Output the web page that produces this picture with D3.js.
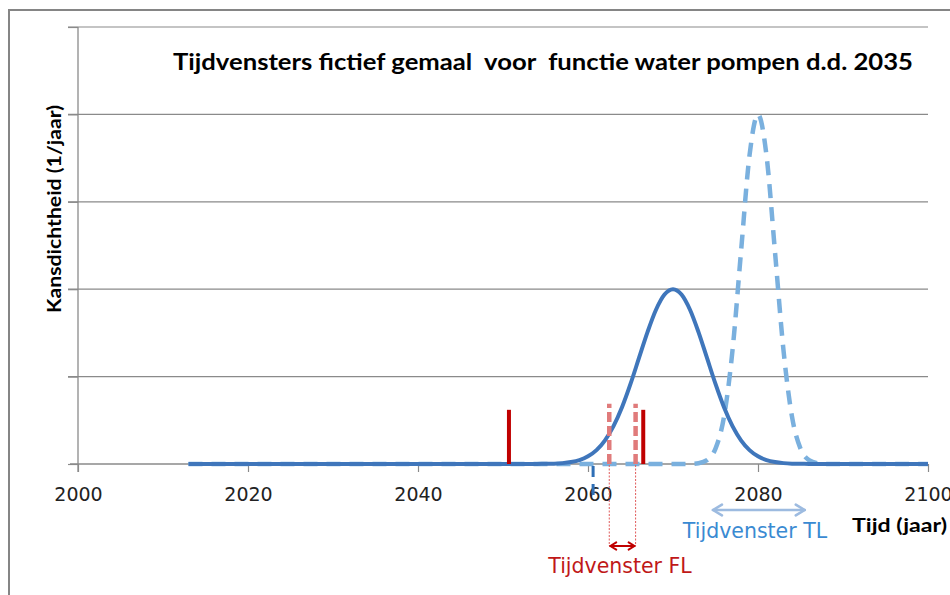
<!DOCTYPE html>
<html>
<head>
<meta charset="utf-8">
<script src="https://cdn.jsdelivr.net/npm/d3@7"></script>
<style>
  html, body { margin: 0; padding: 0; background: #fff; }
  svg { display: block; }
</style>
</head>
<body>
<svg id="chart" width="950" height="595"></svg>
<script>
// ---------- data ----------
const xTicks = [2000, 2020, 2040, 2060, 2080, 2100];
const yGrid = [0, 1, 2, 3, 4, 5];

// solid curve (kansdichtheid, functie water pompen)
const solidYears = [2013, 2050, 2053, 2054, 2055, 2056, 2057, 2058, 2059, 2060, 2061, 2062, 2063, 2064, 2065, 2066, 2067, 2068, 2069, 2070,
                    2071, 2072, 2073, 2074, 2075, 2076, 2077, 2078, 2079, 2080, 2081, 2082, 2083, 2084, 2085, 2086, 2087, 2090, 2100];
const solidValues = [0, 0, 0, 0.001, 0.002, 0.004, 0.010, 0.022, 0.045, 0.088, 0.159, 0.271, 0.433, 0.649, 0.916, 1.213, 1.509, 1.765, 1.939, 2.000,
                     1.939, 1.765, 1.509, 1.213, 0.916, 0.649, 0.433, 0.271, 0.159, 0.088, 0.045, 0.022, 0.010, 0.004, 0.002, 0.001, 0, 0, 0];

// dashed curve
const dashedYears = [2013, 2070, 2071, 2072, 2073, 2074, 2075, 2076, 2077, 2078, 2079, 2080, 2081, 2082, 2083, 2084, 2085, 2086, 2087, 2088, 2089, 2100];
const dashedValues = [0, 0, 0, 0.001, 0.009, 0.044, 0.176, 0.541, 1.300, 2.426, 3.530, 4.000, 3.530, 2.426, 1.300, 0.541, 0.176, 0.044, 0.009, 0.001, 0, 0];

// red bars
const redBarYears = [2050.7, 2066.5];
const redBarValues = [0.62, 0.62];
const redDashYears = [2062.5, 2065.6];
const redDashValues = [0.69, 0.69];

// windows
const flWindow = [2062.5, 2065.6];
const tlWindow = [2074.7, 2085.5];
const blueMarkYear = 2060.6;

const title = "Tijdvensters fictief gemaal  voor  functie water pompen d.d. 2035";
const yLabel = "Kansdichtheid (1/jaar)";
const xLabel = "Tijd (jaar)";
const flLabel = "Tijdvenster FL";
const tlLabel = "Tijdvenster TL";

// ---------- drawing ----------
const svg = d3.select("#chart");
const x = d3.scaleLinear().domain([2000, 2100]).range([78, 928]);
const y = d3.scaleLinear().domain([0, 5]).range([464, 27]);

// outer frame
svg.append("path")
  .attr("d", "M9,600 L9,10 L960,10")
  .attr("fill", "none").attr("stroke", "#858585").attr("stroke-width", 2);

// gridlines
svg.append("g").selectAll("line").data(yGrid.filter(d => d > 0)).join("line")
  .attr("x1", 68).attr("x2", 928)
  .attr("y1", d => y(d)).attr("y2", d => y(d))
  .attr("stroke", "#8a8a8a").attr("stroke-width", 1.2);

// y axis
const yAxis = d3.axisLeft(y).tickValues(yGrid).tickSize(10).tickFormat("");
const gy = svg.append("g").attr("transform", "translate(78,0)").call(yAxis);
gy.select(".domain").attr("stroke", "#8a8a8a").attr("stroke-width", 1.3).attr("d", "M0,27V472");
gy.selectAll(".tick line").attr("stroke", "#8a8a8a").attr("stroke-width", 1.2);

// x axis
const xAxis = d3.axisBottom(x).tickValues(xTicks).tickSize(8).tickPadding(16).tickFormat(d3.format("d"));
const gx = svg.append("g").attr("transform", "translate(0,464)").call(xAxis);
gx.select(".domain").attr("stroke", "#8a8a8a").attr("stroke-width", 1.3).attr("d", "M70,0H928");
gx.selectAll(".tick line").attr("stroke", "#8a8a8a").attr("stroke-width", 1.2);
gx.selectAll(".tick text")
  .attr("font-family", "DejaVu Sans").attr("font-size", 19).attr("fill", "#222");

// line generator
const line = d3.line().x(d => x(d[0])).y(d => y(d[1])).curve(d3.curveMonotoneX);

// dashed curve (drawn beneath the solid one)
svg.append("path")
  .datum(dashedYears.map((yr, i) => [yr, dashedValues[i]]))
  .attr("d", line)
  .attr("fill", "none").attr("stroke", "#7ab0de").attr("stroke-width", 4.5)
  .attr("stroke-dasharray", "14,9");

// solid curve
svg.append("path")
  .datum(solidYears.map((yr, i) => [yr, solidValues[i]]))
  .attr("d", line)
  .attr("fill", "none").attr("stroke", "#3f76bb").attr("stroke-width", 4);

// red dashed bars
svg.append("g").selectAll("line").data(redDashYears).join("line")
  .attr("x1", d => x(d)).attr("x2", d => x(d))
  .attr("y1", y(0)).attr("y2", (d, i) => y(redDashValues[i]))
  .attr("stroke", "#e07b7b").attr("stroke-width", 4.5)
  .attr("stroke-dasharray", "10,4");

// red solid bars
svg.append("g").selectAll("line").data(redBarYears).join("line")
  .attr("x1", d => x(d)).attr("x2", d => x(d))
  .attr("y1", y(0)).attr("y2", (d, i) => y(redBarValues[i]))
  .attr("stroke", "#c00000").attr("stroke-width", 4);

// thin dotted guides down from the FL window
svg.append("g").selectAll("line").data(flWindow).join("line")
  .attr("x1", d => x(d)).attr("x2", d => x(d))
  .attr("y1", y(0) + 1).attr("y2", 546)
  .attr("stroke", "#e05a5a").attr("stroke-width", 1).attr("stroke-dasharray", "2,1.5");

// blue dashed mark under axis
svg.append("line")
  .attr("x1", x(blueMarkYear)).attr("x2", x(blueMarkYear))
  .attr("y1", 466).attr("y2", 502)
  .attr("stroke", "#2f6fb6").attr("stroke-width", 3).attr("stroke-dasharray", "11,7");

// double arrows
function dblArrow(x1, x2, yy, color, width, head) {
  const g = svg.append("g").attr("fill", "none").attr("stroke", color)
    .attr("stroke-width", width).attr("stroke-linecap", "round").attr("stroke-linejoin", "round");
  g.append("line").attr("x1", x1).attr("x2", x2).attr("y1", yy).attr("y2", yy);
  g.append("path").attr("d", `M${x1 + head},${yy - head * 0.6} L${x1},${yy} L${x1 + head},${yy + head * 0.6}`);
  g.append("path").attr("d", `M${x2 - head},${yy - head * 0.6} L${x2},${yy} L${x2 - head},${yy + head * 0.6}`);
}
dblArrow(x(flWindow[0]) + 1, x(flWindow[1]) - 1, 546, "#c00000", 2, 6);
dblArrow(x(tlWindow[0]), x(tlWindow[1]), 510, "#9dbbe0", 2.6, 9);

// labels
svg.append("text").text(flLabel)
  .attr("x", 620).attr("y", 573).attr("text-anchor", "middle")
  .attr("font-family", "DejaVu Sans").attr("font-size", 20.5).attr("fill", "#c01818");
svg.append("text").text(tlLabel)
  .attr("x", 755).attr("y", 538).attr("text-anchor", "middle")
  .attr("font-family", "DejaVu Sans").attr("font-size", 20.5).attr("fill", "#3a8ad2");

svg.append("text").text(xLabel)
  .attr("x", 852).attr("y", 532)
  .attr("font-family", "Lato").attr("font-weight", "bold").attr("font-size", 19.5).attr("fill", "#000")
  .attr("textLength", 95).attr("lengthAdjust", "spacingAndGlyphs");

svg.append("text").text(yLabel)
  .attr("transform", "translate(61,209) rotate(-90)").attr("text-anchor", "middle")
  .attr("font-family", "Lato").attr("font-weight", "bold").attr("font-size", 19).attr("fill", "#000")
  .attr("textLength", 208).attr("lengthAdjust", "spacingAndGlyphs");

svg.append("text").text(title)
  .attr("x", 173).attr("y", 69.5).attr("xml:space", "preserve")
  .style("white-space", "pre")
  .attr("font-family", "Lato").attr("font-weight", "bold").attr("font-size", 22.5).attr("fill", "#000")
  .attr("textLength", 740).attr("lengthAdjust", "spacingAndGlyphs");
</script>
</body>
</html>
